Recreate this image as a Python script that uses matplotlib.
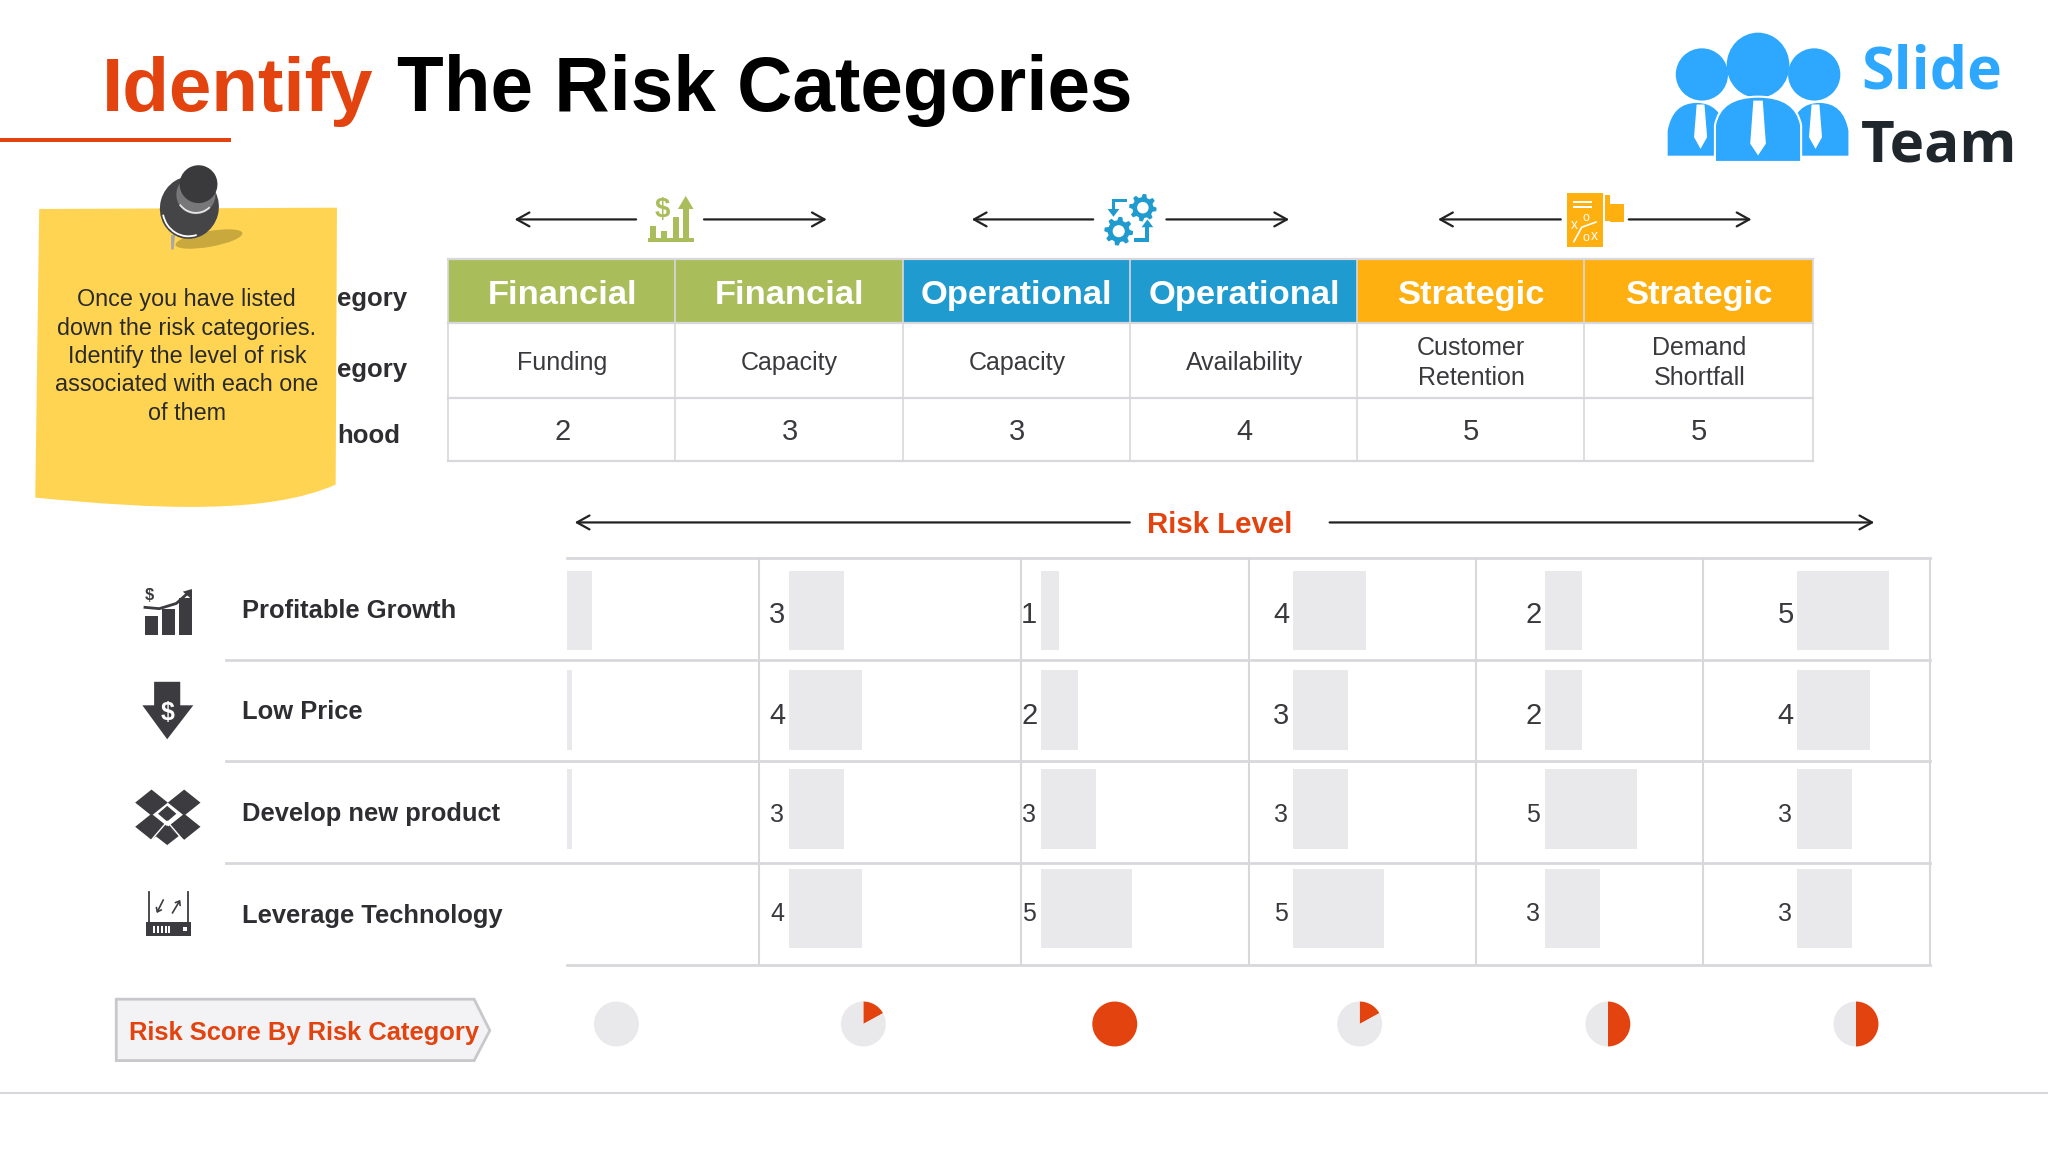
import numpy as np
import matplotlib
matplotlib.use('Agg')
import matplotlib.pyplot as plt
from matplotlib.patches import Polygon, Rectangle, Ellipse, Circle, PathPatch, Arc
from matplotlib.path import Path

plt.rcParams['font.family'] = ['Liberation Sans', 'DejaVu Sans']

# table on top
categories = ['Financial', 'Financial', 'Operational', 'Operational', 'Strategic', 'Strategic']
sub_categories = ['Funding', 'Capacity', 'Capacity', 'Availability', 'Customer\nRetention', 'Demand\nShortfall']
likelihood = [2, 3, 3, 4, 5, 5]
header_colors = ['#A9BE5A', '#A9BE5A', '#1F9BCF', '#1F9BCF', '#FDB010', '#FDB010']

# risk level grid, first column is mostly hidden behind the row labels
objectives = ['Profitable Growth', 'Low Price', 'Develop new product', 'Leverage Technology']
first_col_visible = [1.35, 0.3, 0.3, 0]
risk_levels = [[3, 1, 4, 2, 5],
               [4, 2, 3, 2, 4],
               [3, 3, 3, 5, 3],
               [4, 5, 5, 3, 3]]
score_share = [0, 0.17, 1, 0.17, 0.5, 0.5]

RED = '#E2430F'
GRID = '#D8D8DC'
BAR = '#E9E8EB'
TEXT = '#3A3A3E'
DARK = '#3C3C40'
W, H = 1568, 882

fig = plt.figure(figsize=(20.48, 11.52), dpi=100)
ax = fig.add_axes([0, 0, 1, 1])
ax.set_xlim(0, W)
ax.set_ylim(H, 0)
ax.axis('off')


def arrow(x0, x1, y):
    ax.annotate('', xy=(x1, y), xytext=(x0, y),
                arrowprops=dict(arrowstyle='->,head_length=0.9,head_width=0.5', color='#222222',
                                lw=1.6, shrinkA=0, shrinkB=0))


def poly(pts, color, z=3):
    ax.add_patch(Polygon(pts, closed=True, fc=color, ec='none', zorder=z))


def rect(x, y, w, h, color, z=3):
    ax.add_patch(Rectangle((x, y), w, h, fc=color, ec='none', zorder=z))


def gear(cx, cy, r, color):
    ang = np.linspace(0, 2 * np.pi, 48, endpoint=False)
    rad = np.where((np.arange(48) // 3) % 2 == 0, r, r * 0.76)
    poly(np.c_[cx + rad * np.cos(ang), cy + rad * np.sin(ang)], color)
    ax.add_patch(Circle((cx, cy), r * 0.42, fc='white', ec='none', zorder=4))


# title
ax.text(78, 85, 'Identify', color=RED, fontsize=55, fontweight='bold')
ax.text(304, 85, 'The Risk Categories', color='black', fontsize=55.1, fontweight='bold')
rect(0, 105.5, 177, 3.5, RED)

# logo
BLUE = '#2EA7FF'
for cx, cy, rx, ry in [(1303, 57, 20, 20), (1346, 50, 24, 25), (1389, 57, 20, 20)]:
    ax.add_patch(Ellipse((cx, cy), 2 * rx, 2 * ry, fc=BLUE, ec='none', zorder=3))
for x0, x1, top, bot, z in [(1276, 1322, 78, 120, 3), (1370, 1416, 78, 120, 3), (1313, 1379, 74, 124, 4)]:
    mid = (x0 + x1) / 2
    verts = [(x0, bot), (x0, top + 22), (x0 + 4, top), (mid, top), (x1 - 4, top), (x1, top + 22), (x1, bot), (x0, bot)]
    codes = [Path.MOVETO, Path.LINETO, Path.CURVE3, Path.CURVE3, Path.CURVE3, Path.CURVE3, Path.LINETO, Path.CLOSEPOLY]
    ax.add_patch(PathPatch(Path(verts, codes), fc=BLUE, ec='white', lw=1.5, zorder=z))
for cx, top, w, bot in [(1302, 80, 5, 114), (1346, 77, 6, 119), (1390, 80, 5, 114)]:
    poly([(cx - w * 0.6, top), (cx + w * 0.6, top), (cx + w, bot - 9), (cx, bot), (cx - w, bot - 9)], 'white', 5)
ax.text(1425, 68, 'Slide', color=BLUE, fontsize=42.5, fontweight='bold', family='Open Sans')
ax.text(1425, 124, 'Team', color='#1F272C', fontsize=42, fontweight='bold', family='Open Sans')

# top arrows and their icons
for x0, x1, x2, x3 in [(487, 394, 539, 633), (837, 744, 893, 987), (1195, 1101, 1247, 1341)]:
    arrow(x0, x1, 168)
    arrow(x2, x3, 168)

GREEN = '#A9BE5A'
rect(496, 182, 35, 3.5, GREEN)
for x, y0 in [(498, 173), (506, 177), (515, 166), (523, 158)]:
    rect(x, y0, 4.5, 184 - y0, GREEN)
poly([(525, 150), (531, 160), (519, 160)], GREEN)
ax.text(507, 161, '$', color=GREEN, fontsize=20, fontweight='bold', ha='center', va='center')

IBLUE = '#1F9BCF'
gear(875, 159, 10.5, IBLUE)
gear(856.5, 177, 11, IBLUE)
rect(851, 152, 12, 3, IBLUE)
rect(851, 152, 3, 10, IBLUE)
poly([(848, 160), (857, 160), (852.5, 166)], IBLUE)
rect(868, 182, 12, 3, IBLUE)
rect(877, 173, 3, 12, IBLUE)
poly([(874, 174), (883, 174), (878.5, 168)], IBLUE)

ORANGE = '#FDB010'
rect(1200, 148, 27, 41, ORANGE)
rect(1228, 156, 15, 14, ORANGE)
rect(1227, 148, 6, 23, 'white', 4)
rect(1229, 149, 4, 20, ORANGE, 5)
rect(1204, 154, 15, 1.6, 'white', 5)
rect(1204, 158, 15, 1.6, 'white', 5)
ax.plot([1205, 1211, 1222], [185, 174, 170], color='white', lw=1.2, zorder=5)
ax.text(1205, 172, 'x', color='white', fontsize=10, ha='center', va='center', zorder=5)
ax.text(1214, 167, 'o', color='white', fontsize=9, ha='center', va='center', zorder=5)
ax.text(1214, 182, 'o', color='white', fontsize=9, ha='center', va='center', zorder=5)
ax.text(1221, 181, 'x', color='white', fontsize=10, ha='center', va='center', zorder=5)

# top table
col_x = [343, 517, 691, 865, 1039, 1213, 1388]
row_y = [198, 247, 305, 353]
for i in range(6):
    rect(col_x[i], row_y[0], col_x[i + 1] - col_x[i], row_y[1] - row_y[0], header_colors[i], 2)
    cx = (col_x[i] + col_x[i + 1]) / 2 + 0.5
    ax.text(cx, 226, categories[i], color='white', fontsize=24.8, fontweight='bold', ha='center', va='center', zorder=4)
    ax.text(cx, 278, sub_categories[i], color=TEXT, fontsize=18, ha='center', va='center', linespacing=1.3, zorder=4)
    ax.text(cx, 331, str(likelihood[i]), color=TEXT, fontsize=21, ha='center', va='center', zorder=4)
for x in col_x:
    ax.plot([x, x], [row_y[0], row_y[-1]], color=GRID, lw=1.2, zorder=3)
for y in row_y:
    ax.plot([col_x[0], col_x[-1]], [y, y], color=GRID, lw=1.6, zorder=3)

# row labels of the top table, they run in under the note
for y, s in [(229, 'egory'), (283, 'egory'), (334, 'hood')]:
    ax.text(258, y, s, color='#2E2E32', fontsize=18.5, fontweight='bold', va='center', zorder=2)

# sticky note
note = Path([(30, 160), (258, 159), (257, 371), (205, 394), (120, 390), (27, 381), (30, 160)],
            [Path.MOVETO, Path.LINETO, Path.LINETO, Path.CURVE4, Path.CURVE4, Path.CURVE4, Path.CLOSEPOLY])
ax.add_patch(PathPatch(note, fc='#FFD452', ec='none', zorder=5))
ax.text(143, 273, 'Once you have listed\ndown the risk categories.\nIdentify the level of risk\nassociated with each one\nof them',
        color='#2A2A2A', fontsize=16.8, ha='center', va='center', linespacing=1.3, zorder=6)

# pin
ax.add_patch(Ellipse((160, 183), 52, 12, angle=-10, fc='#C9A93E', ec='none', zorder=6))
poly([(131, 180), (134, 180), (133, 191), (131, 191)], '#A8A8A8', 6)
ax.add_patch(Ellipse((145, 159), 45, 48, angle=15, fc='#454548', ec='none', zorder=7))
ax.add_patch(Arc((145, 159), 41, 44, angle=15, theta1=60, theta2=150, color='white', lw=1.3, zorder=8))
ax.add_patch(Ellipse((150, 149), 30, 30, angle=15, fc='#77777A', ec='none', zorder=8))
ax.add_patch(Arc((150, 148), 30, 30, angle=15, theta1=30, theta2=130, color='#E6E6E6', lw=1.3, zorder=9))
ax.add_patch(Ellipse((152, 141), 29, 29, angle=15, fc='#3A3A3D', ec='none', zorder=9))

# risk level header
arrow(865, 440, 400)
arrow(1018, 1435, 400)
ax.text(934, 402, 'Risk Level', color=RED, fontsize=21.2, fontweight='bold', ha='center', va='center')

# risk level grid
grid_x = [434, 581, 782, 956, 1130, 1304, 1478]
grid_y = [427, 505, 583, 661, 739]
bar_left = [604, 797, 990, 1183, 1376]
num_x = [595, 788, 981, 1174, 1367]
num_y = [471, 548, 624, 700]
num_size = [21, 21, 18, 18]
bar_top = [437, 513, 589, 665]
bar_h = 61
px_per_level = 14

for r, levels in enumerate(risk_levels):
    ax.barh(bar_top[r] + bar_h / 2, first_col_visible[r] * px_per_level, height=bar_h, left=grid_x[0], color=BAR, zorder=2)
    ax.barh(bar_top[r] + bar_h / 2, np.array(levels) * px_per_level, height=bar_h, left=bar_left, color=BAR, zorder=2)
    for c, v in enumerate(levels):
        ax.text(num_x[c], num_y[r], str(v), color=TEXT, fontsize=num_size[r], ha='center', va='center', zorder=4)
    ax.text(185, (grid_y[r] + grid_y[r + 1]) / 2 - 0.5, objectives[r], color='#2E2E32', fontsize=18.4,
            fontweight='bold', va='center_baseline', zorder=4)
for x in grid_x[1:]:
    ax.plot([x, x], [grid_y[0], grid_y[-1]], color=GRID, lw=1.5, zorder=3)
ax.plot([grid_x[0], grid_x[-1]], [grid_y[0], grid_y[0]], color=GRID, lw=2, zorder=3)
ax.plot([grid_x[0], grid_x[-1]], [grid_y[-1], grid_y[-1]], color=GRID, lw=2, zorder=3)
for y in grid_y[1:-1]:
    ax.plot([173, grid_x[-1]], [y, y], color=GRID, lw=2, zorder=3)

# row icons
for x, y0 in [(111, 472), (124, 466), (137, 458)]:
    rect(x, y0, 10, 486 - y0, DARK)
ax.text(114, 456, '$', color=DARK, fontsize=12, fontweight='bold', ha='center', va='center')
ax.plot([111, 122, 135, 145], [465, 466, 462, 453], color=DARK, lw=2, zorder=3)
poly([(147, 451), (147, 459), (140, 453)], DARK)

poly([(118, 522), (138, 522), (138, 540), (148, 540), (128, 566), (109, 540), (118, 540)], DARK)
ax.text(128, 546, '$', color='white', fontsize=18, fontweight='bold', ha='center', va='center', zorder=4)

for cx, cy in [(116, 614.5), (141, 614.5), (116, 633), (141, 633)]:
    poly([(cx, cy - 10), (cx + 12.5, cy), (cx, cy + 10), (cx - 12.5, cy)], DARK)
poly([(128, 617), (135, 623), (128, 629), (121, 623)], DARK)
poly([(128, 632), (137, 640), (128, 647), (119, 640)], DARK)
ax.plot([128, 116], [629, 643], color='white', lw=1, zorder=4)
ax.plot([128, 140], [629, 643], color='white', lw=1, zorder=4)

rect(112, 706, 34, 11, DARK)
for x in [114, 144]:
    ax.plot([x, x], [683, 706], color=DARK, lw=1.3)
for x in [117, 120, 123, 126, 129]:
    rect(x, 709, 1.5, 5, 'white', 4)
rect(140, 710, 3, 3, 'white', 4)
for x0, x1, y0, y1 in [(125, 120, 689, 699), (132, 138, 699, 689)]:
    ax.annotate('', xy=(x1, y1), xytext=(x0, y0),
                arrowprops=dict(arrowstyle='->,head_length=0.25,head_width=0.2', color=DARK, lw=1.2, shrinkA=0, shrinkB=0))

# risk score tag and pies
ax.add_patch(Polygon([(89, 765), (363, 765), (375, 789), (363, 812), (89, 812)], closed=True,
                     fc='#F3F2F4', ec='#C8C8CC', lw=2, zorder=2))
ax.text(99, 791, 'Risk Score By Risk Category', color=RED, fontsize=18.4, fontweight='bold', va='center', zorder=4)

pie_x = [472, 661, 853.5, 1041, 1231, 1421]
pie_y = 784
pie_r = 17.2
for cx, share in zip(pie_x, score_share):
    pie_ax = fig.add_axes([(cx - pie_r) / W, 1 - (pie_y + pie_r) / H, 2 * pie_r / W, 2 * pie_r / H])
    pie_ax.pie([share, 1 - share], colors=[RED, BAR], startangle=90, counterclock=False, radius=1)
    pie_ax.set_xlim(-1, 1)
    pie_ax.set_ylim(-1, 1)

# footer line
ax.plot([0, W], [837, 837], color=GRID, lw=1.5)

fig.savefig('out.png', dpi=100)
